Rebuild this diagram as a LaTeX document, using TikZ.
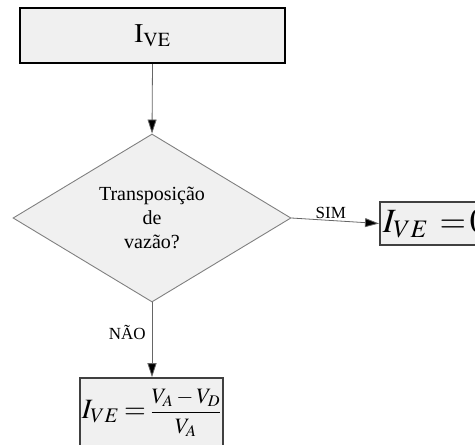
\documentclass[tikz,border=0pt]{standalone}
\usepackage{mathptmx}
\usepackage[no-math]{fontspec}
\setmainfont{Liberation Serif}
\usetikzlibrary{shapes.geometric,arrows.meta}

\tikzset{
  boxfill/.style={fill=black!6},
  titlebox/.style={boxfill, draw=black, line width=2.4pt, inner sep=0pt,
    font=\fontsize{27}{32}\selectfont},
  decision/.style={boxfill, draw=black!50, line width=0.9pt, shape=diamond,
    inner sep=0pt, align=center, font=\fontsize{20}{24}\selectfont},
  eqbox/.style={boxfill, draw=black!75, line width=1.6pt},
  flow/.style={draw=black!60, line width=0.8pt,
    -{Triangle[length=14pt,width=9pt,fill=black]}},
  flowlabel/.style={font=\fontsize{17}{20}\selectfont, inner sep=1pt}
}

\begin{document}
\begin{tikzpicture}[x=1pt,y=-1pt]
  \useasboundingbox (0,0) rectangle (475,445);
  \clip (0,0) rectangle (475,445);

  % start block
  \node[titlebox, minimum width=265pt, minimum height=55pt] (start) at (152.5,35.5)
    {$\mathrm{I}_{\mathrm{VE}}$};

  % decision
  \node[decision, minimum width=278pt, minimum height=168pt] (q) at (152,218)
    {Transposição\\de\\vazão?};

  % result for "SIM"
  \node[eqbox, anchor=west, minimum height=43pt, inner xsep=3pt,
        font=\fontsize{34}{40}\selectfont] (zero) at (379,223.5)
    {$I_{VE}\mskip6mu{=}\mskip2mu 0$\hspace{14pt}};

  % result for "NÃO"
  \node[eqbox, minimum width=141pt, minimum height=70pt, inner sep=2pt,
        font=\fontsize{28}{34}\selectfont] (res) at (151.5,413)
    {$I_{VE}\mskip3mu{=}\mskip3mu\mbox{\fontsize{22}{26}\selectfont$\displaystyle\frac{V_A-V_D}{V_A}$}$};

  % connectors
  \draw[flow] (start.south) -- (q.north);
  \draw[flow] (q.east) -- node[flowlabel, above, pos=0.45] {SIM} (zero.west);
  \draw[flow] (q.south) -- node[flowlabel, left=5pt, pos=0.4] {NÃO} (q.south |- res.north);
\end{tikzpicture}
\end{document}
